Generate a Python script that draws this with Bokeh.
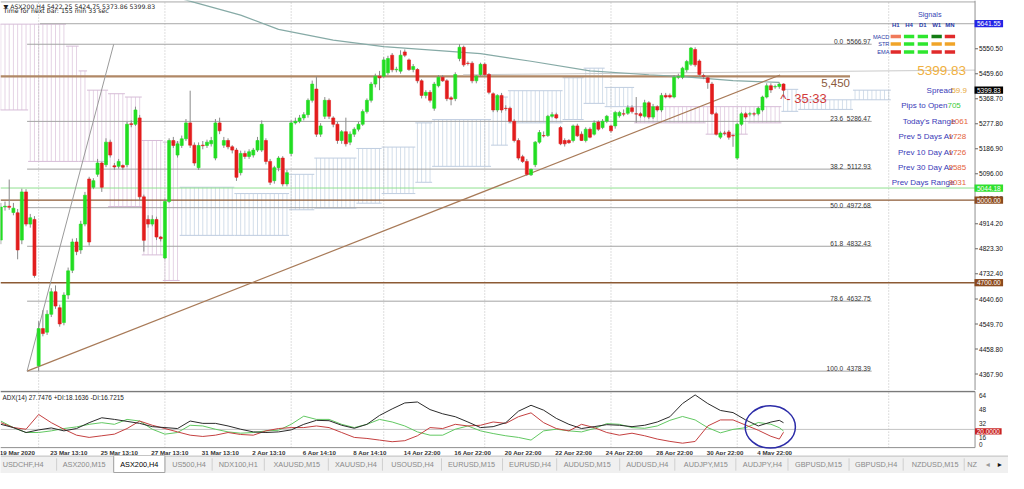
from bokeh.plotting import figure
from bokeh.layouts import column
from bokeh.models import Range1d
from bokeh.embed import file_html
from bokeh.resources import INLINE
from bokeh.core.properties import value

# ---------------- chart values ----------------
opens = [4855, 4975, 4978, 4955, 4954, 4855, 5030, 4913, 4930, 4398,
         4533, 4520, 4585, 4667, 4609, 4555, 4655, 4745, 4848, 4819,
         4913, 5077, 5047, 5094, 5135, 5129, 5211, 5125, 5123, 5126,
         5129, 5278, 5276, 5299, 5012, 4930, 4913, 4930, 4866, 4790,
         4995, 5217, 5164, 5199, 5223, 5281, 5200, 5118, 5200, 5199,
         5205, 5153, 5281, 5200, 5217, 5194, 5182, 5100, 5170, 5159,
         5164, 5182, 5182, 5217, 5141, 5071, 5118, 5153, 5059, 5170,
         5281, 5287, 5299, 5311, 5363, 5404, 5240, 5305, 5363, 5299,
         5276, 5217, 5249, 5211, 5240, 5258, 5276, 5322, 5363, 5422,
         5451, 5451, 5463, 5527, 5474, 5469, 5539, 5510, 5475, 5475,
         5434, 5381, 5392, 5334, 5416, 5447, 5434, 5372, 5369, 5515,
         5556, 5498, 5498, 5434, 5457, 5494, 5457, 5387, 5328, 5381,
         5334, 5334, 5287, 5217, 5158, 5141, 5092, 5129, 5211, 5235,
         5235, 5305, 5311, 5264, 5217, 5217, 5217, 5270, 5240, 5217,
         5258, 5240, 5284, 5264, 5287, 5270, 5270, 5307, 5314, 5316,
         5336, 5314, 5314, 5305, 5354, 5302, 5340, 5328, 5381, 5381,
         5375, 5447, 5447, 5474, 5494, 5548, 5506, 5452, 5445, 5422,
         5314, 5229, 5244, 5248, 5235, 5153, 5276, 5314, 5313, 5314,
         5314, 5328, 5375, 5416, 5412, 5413, 5422.25]
highs = [4990, 4995, 5075, 4990, 4968, 5042, 5040, 4950, 4942, 4560,
         4600, 4600, 4680, 4690, 4620, 4665, 4755, 4860, 4862, 4925,
         5030, 5085, 5080, 5150, 5140, 5225, 5220, 5135, 5150, 5130,
         5285, 5290, 5340, 5310, 5020, 4945, 4945, 4940, 4870, 5005,
         5225, 5230, 5215, 5235, 5295, 5398, 5210, 5210, 5215, 5220,
         5230, 5295, 5300, 5230, 5225, 5200, 5190, 5180, 5180, 5185,
         5190, 5230, 5290, 5225, 5150, 5125, 5160, 5160, 5110, 5290,
         5300, 5310, 5320, 5370, 5435, 5450, 5280, 5375, 5370, 5305,
         5285, 5255, 5300, 5250, 5265, 5285, 5330, 5370, 5430, 5460,
         5470, 5520, 5525, 5535, 5485, 5545, 5548, 5515, 5495, 5480,
         5440, 5400, 5400, 5430, 5455, 5455, 5440, 5378, 5465, 5567,
         5562, 5505, 5505, 5455, 5500, 5500, 5462, 5392, 5385, 5390,
         5345, 5340, 5295, 5225, 5165, 5150, 5115, 5215, 5255, 5250,
         5310, 5320, 5318, 5270, 5225, 5222, 5275, 5278, 5250, 5265,
         5265, 5290, 5290, 5295, 5310, 5275, 5325, 5325, 5330, 5345,
         5345, 5375, 5320, 5365, 5360, 5350, 5345, 5390, 5390, 5388,
         5455, 5460, 5485, 5510, 5557, 5556, 5512, 5460, 5450, 5430,
         5320, 5250, 5252, 5255, 5240, 5280, 5320, 5320, 5320, 5320,
         5340, 5380, 5425, 5425, 5420, 5428, 5424.75]
lows = [4840, 4962, 4965, 4945, 4785, 4840, 4905, 4900, 4718, 4378.39,
        4505, 4510, 4575, 4605, 4540, 4545, 4640, 4735, 4800, 4805,
        4905, 4835, 5040, 5085, 5030, 5120, 5155, 5110, 5115, 5110,
        5120, 5265, 5270, 5000, 4813, 4900, 4905, 4855, 4850, 4785,
        4990, 5190, 5155, 5190, 5215, 5190, 5125, 5110, 5185, 5190,
        5195, 5145, 5240, 5190, 5185, 5170, 5070, 5090, 5150, 5150,
        5155, 5175, 5175, 5130, 5055, 5060, 5105, 5050, 5050, 5160,
        5275, 5280, 5290, 5300, 5355, 5230, 5230, 5295, 5295, 5265,
        5205, 5205, 5195, 5200, 5230, 5250, 5270, 5315, 5355, 5410,
        5400, 5445, 5455, 5465, 5465, 5460, 5520, 5470, 5465, 5425,
        5370, 5370, 5355, 5325, 5410, 5430, 5360, 5345, 5360, 5505,
        5485, 5490, 5425, 5425, 5450, 5450, 5385, 5320, 5320, 5318,
        5325, 5280, 5210, 5145, 5135, 5088, 5088, 5120, 5205, 5228,
        5230, 5300, 5295, 5200, 5195, 5205, 5210, 5230, 5215, 5210,
        5225, 5235, 5252, 5258, 5280, 5245, 5260, 5300, 5305, 5310,
        5315, 5282, 5300, 5300, 5295, 5295, 5322, 5320, 5370, 5370,
        5370, 5440, 5440, 5465, 5488, 5485, 5450, 5440, 5405, 5310,
        5235, 5222, 5235, 5220, 5194, 5147, 5270, 5295, 5305, 5305,
        5308, 5322, 5370, 5390, 5405, 5405, 5373.86]
closes = [4975, 4978, 4974, 4971, 4819, 5030, 4913, 4936, 4726, 4533,
          4515, 4585, 4667, 4615, 4550, 4655, 4743, 4848, 4813, 4913,
          5018, 4848, 5071, 5135, 5047, 5211, 5164, 5121, 5141, 5120,
          5276, 5275, 5328, 5012, 4854, 4913, 4930, 4866, 4860, 4995,
          5217, 5199, 5205, 5223, 5281, 5200, 5135, 5199, 5198, 5211,
          5217, 5281, 5252, 5217, 5194, 5182, 5083, 5170, 5159, 5176,
          5182, 5217, 5276, 5141, 5065, 5118, 5153, 5059, 5100, 5281,
          5287, 5299, 5311, 5363, 5422, 5240, 5270, 5363, 5305, 5276,
          5217, 5249, 5205, 5240, 5258, 5276, 5322, 5363, 5422, 5451,
          5445, 5510, 5515, 5474, 5476, 5527, 5527, 5475, 5486, 5434,
          5381, 5392, 5363, 5422, 5447, 5434, 5369, 5367, 5457, 5556,
          5492, 5497, 5434, 5451, 5494, 5457, 5392, 5328, 5381, 5328,
          5333, 5287, 5217, 5153, 5141, 5094, 5112, 5211, 5246, 5234,
          5305, 5311, 5299, 5205, 5205, 5209, 5270, 5234, 5217, 5258,
          5229, 5281, 5258, 5287, 5305, 5252, 5319, 5319, 5313, 5336,
          5322, 5313, 5307, 5354, 5302, 5340, 5328, 5381, 5375, 5375,
          5447, 5449, 5480, 5504, 5553, 5492, 5457, 5451, 5428, 5314,
          5240, 5244, 5243, 5229, 5234, 5276, 5314, 5302, 5314, 5313,
          5334, 5375, 5416, 5401, 5413, 5422, 5399.83]

price_ticks = [5550.50, 5459.60, 5368.70, 5277.80, 5186.90, 5096.00, 5005.10,
               4914.20, 4823.30, 4732.40, 4640.60, 4549.70, 4458.80, 4367.90]

fib_names = ["0.0", "23.6", "38.2", "50.0", "61.8", "78.6", "100.0"]
fib_prices = [5566.97, 5286.47, 5112.93, 4972.68, 4832.43, 4632.75, 4378.39]

resist_level = 5450.0
brown_levels = [5000.00, 4700.00]
green_level = 5044.18
top_level = 5641.55
last_price = 5399.83

ma_bars = [40, 46, 57, 66, 79, 91, 114, 126, 140, 154, 162, 174, 185]
ma_vals = [5745, 5719, 5673, 5621, 5582, 5558, 5533, 5505, 5470, 5456, 5449, 5435, 5428]

cloud_start = [0, 7, 16, 19, 21, 26, 30, 34, 39, 43, 56, 69, 75, 85, 91, 99, 103, 117,
               121, 134, 139, 144, 151, 168, 178, 186, 190, 203]
cloud_end = [7, 16, 19, 21, 26, 30, 34, 39, 43, 56, 69, 75, 85, 91, 99, 103, 117, 121,
             134, 139, 144, 151, 168, 178, 186, 190, 203, 212]
cloud_top = [5640, 5640, 5560, 5470, 5400, 5387, 5375, 5217, 5211, 5047, 5024, 5094, 5153,
             5188, 5193, 5281, 5293, 5375, 5398, 5445, 5480, 5410, 5340, 5340, 5340, 5403,
             5365, 5400]
cloud_bottom = [5328, 5141, 5141, 5141, 5141, 4977, 4977, 4801, 4708, 4872, 4872, 4965, 4971,
                4989, 5024, 5065, 5123, 5200, 5281, 5293, 5352, 5340, 5281, 5240, 5281, 5323,
                5330, 5365]
cloud_bull = [0, 0, 0, 0, 0, 0, 0, 0, 0, 1, 1, 1, 1, 1, 1, 1, 1, 1, 1, 1, 1, 1, 0, 0, 0, 1, 1, 1]

adx_bars = list(range(0, 184, 3)) + [185, 186]
adx_main = [25.9, 22.1, 16.4, 19.4, 21.7, 18.3, 21.0, 27.8, 33.5, 31.6,
            29.3, 27.0, 23.2, 22.1, 21.0, 29.7, 27.0, 27.0, 24.0, 20.2,
            17.1, 16.4, 17.1, 19.4, 25.9, 30.5, 30.1, 24.8, 21.3, 25.9,
            36.2, 43.8, 50.7, 51.8, 43.0, 38.1, 34.7, 28.6, 22.1, 23.2,
            27.8, 41.1, 48.0, 42.3, 32.8, 25.9, 21.0, 23.2, 25.5, 24.8,
            23.2, 24.8, 28.6, 34.7, 50.0, 60.0, 50.0, 42.0, 39.5, 31.0,
            24.0, 28.5, 30.5, 27.75]
adx_plus = [29.7, 22.1, 16.4, 16.4, 18.3, 21.0, 22.9, 25.9, 27.8, 25.9,
            31.6, 29.7, 20.2, 14.5, 16.4, 24.8, 24.0, 20.2, 17.1, 15.6,
            16.4, 18.3, 19.0, 25.9, 35.4, 31.6, 31.6, 25.9, 22.1, 25.9,
            31.6, 28.6, 24.0, 17.1, 13.3, 13.3, 20.2, 24.0, 18.3, 15.2,
            12.6, 10.7, 7.6, 18.3, 20.2, 18.3, 17.1, 21.0, 26.7, 25.9,
            22.1, 21.3, 24.0, 30.5, 35.0, 31.0, 22.0, 16.0, 20.0, 22.0,
            28.0, 26.0, 22.0, 18.16]
adx_minus = [27.8, 22.1, 20.2, 37.3, 27.8, 20.2, 13.3, 10.7, 12.6, 14.5,
             21.0, 29.7, 24.8, 21.0, 17.1, 13.3, 11.8, 13.3, 16.4, 14.1,
             13.3, 18.3, 21.0, 22.1, 22.1, 24.0, 22.1, 16.4, 10.7, 9.5,
             7.6, 5.7, 6.9, 12.6, 22.1, 21.0, 25.9, 24.0, 24.8, 28.6,
             27.0, 34.7, 39.2, 27.8, 21.0, 18.3, 25.9, 22.1, 16.4, 13.3,
             15.6, 12.6, 8.8, 6.1, 4.0, 6.0, 24.0, 31.0, 31.0, 25.0,
             19.0, 12.0, 8.8, 16.72]
adx_level = 20
adx_ticks = [64, 48, 32, 16]

date_bars = list(range(0, 181, 12))
date_labels = ["19 Mar 2020", "23 Mar 13:10", "25 Mar 13:10", "27 Mar 13:10", "31 Mar 13:10",
               "2 Apr 13:10", "6 Apr 14:10", "8 Apr 14:10", "14 Apr 22:00", "16 Apr 22:00",
               "20 Apr 22:00", "22 Apr 22:00", "24 Apr 22:00", "28 Apr 22:00", "30 Apr 22:00",
               "4 May 22:00"]
grid_bars = [9, 39, 69, 91, 115, 145, 175, 211]

sig_cols = ["H1", "H4", "D1", "W1", "MN"]
sig_rows = ["MACD", "STR", "EMA"]
sig_colors = [["#f07a5a", "#2ee62e", "#2ee62e", "#137c13", "#e02a2a"],
              ["#f0a428", "#2ee62e", "#2ee62e", "#f0a428", "#f0a428"],
              ["#e02a2a", "#2ee62e", "#2ee62e", "#e02a2a", "#e02a2a"]]

info_labels = ["Spread", "Pips to Open", "Today's Range", "Prev 5 Days Av", "Prev 10 Day Av",
               "Prev 30 Day Av", "Prev Days Range"]
info_values = ["59.9", "705", "1061", "1728", "1726", "2585", "3031"]

tab_labels = ["USDCHF,H4", "ASX200,M15", "ASX200,H4", "US500,H4", "NDX100,H1", "XAUUSD,M15",
              "XAUUSD,H4", "USOUSD,H4", "EURUSD,M15", "EURUSD,H4", "AUDUSD,M15", "AUDUSD,H4",
              "AUDJPY,M15", "AUDJPY,H4", "GBPUSD,M15", "GBPUSD,H4", "NZDUSD,M15"]
active_tab = 2

assert len(opens) == len(highs) == len(lows) == len(closes) == 187
assert len(adx_bars) == len(adx_main) == len(adx_plus) == len(adx_minus)

# ---------------- layout helpers (reference pixel -> data space, for overlays) ----------------
def bx(px):
    return (px - 0.3) / 4.275

def py(ypx):
    return 5550.5 - (ypx - 50) * 3.51

def ay(ypx):
    return 20 + (443.5 - ypx) / 0.875

W = 1008
FONT = value("Liberation Sans")
bars = list(range(len(closes)))
AX = bx(990)          # right border of the plotting area
x_range = Range1d(bx(0), bx(1024))


def base_fig(height, y_range):
    f = figure(width=W, height=height, x_range=x_range, y_range=y_range,
               output_backend="svg", toolbar_location=None, title=None,
               x_axis_location=None, y_axis_location=None, min_border=0,
               min_border_left=0, min_border_right=0, min_border_top=0, min_border_bottom=0,
               background_fill_color="white", border_fill_color="white",
               outline_line_color=None)
    f.grid.visible = False
    return f

# ---------------- main price panel ----------------
p = base_fig(390, Range1d(py(404), py(0)))

# ichimoku cloud hatch
pink, blue = "#e5d3e5", "#d3deea"
edge_pink, edge_blue = "#d6bcd7", "#bfcde0"
hx, hy0, hy1, hc = [], [], [], []
for s, e, top, bot, bull in zip(cloud_start, cloud_end, cloud_top, cloud_bottom, cloud_bull):
    for b in range(s, e):
        hx.append(b)
        hy0.append(bot)
        hy1.append(top)
        hc.append(blue if bull else pink)
p.segment(x0=hx, x1=hx, y0=hy0, y1=hy1, line_color=hc, line_width=1)
ec = [edge_blue if b else edge_pink for b in cloud_bull]
ex0 = [s - 0.5 for s in cloud_start]
ex1 = [e - 0.5 for e in cloud_end]
p.segment(x0=ex0, x1=ex1, y0=cloud_top, y1=cloud_top, line_color=ec, line_width=1)
p.segment(x0=ex0, x1=ex1, y0=cloud_bottom, y1=cloud_bottom, line_color=ec, line_width=1)

# vertical period separators
ylo, yhi = py(404), py(0)
p.segment(x0=grid_bars, x1=grid_bars, y0=[ylo] * len(grid_bars), y1=[yhi] * len(grid_bars),
          line_color="#bdbdbd", line_dash="1 2", line_width=1)

# top border of the chart window
p.segment(x0=[bx(0)], x1=[AX], y0=[py(1.5)], y1=[py(1.5)], line_color="#a8a8a8", line_width=1)

# fibonacci levels
fx0 = [bx(27)] * len(fib_prices)
fx1 = [bx(885)] * len(fib_prices)
p.segment(x0=fx0, x1=fx1, y0=fib_prices, y1=fib_prices, line_color="#a3a3a3", line_width=1)
p.text(x=[bx(856)] * len(fib_names), y=fib_prices, text=fib_names, text_align="right",
       text_baseline="bottom", text_font=FONT, text_font_size="6.6px", text_color="#333333")
p.text(x=[bx(884)] * len(fib_names), y=fib_prices, text=["%.2f" % v for v in fib_prices],
       text_align="right", text_baseline="bottom", text_font=FONT, text_font_size="6.6px",
       text_color="#333333")

# horizontal objects
p.segment(x0=[bx(40)], x1=[AX], y0=[top_level], y1=[top_level], line_color="#a8a8a8", line_width=1)
p.segment(x0=[bx(0)], x1=[AX], y0=[green_level], y1=[green_level], line_color="#8fe08f", line_width=1)
p.segment(x0=[bx(0)] * 2, x1=[AX] * 2, y0=brown_levels, y1=brown_levels,
          line_color="#8c5a34", line_width=1.4)
p.segment(x0=[bx(0)], x1=[bx(863)], y0=[resist_level], y1=[resist_level],
          line_color="#b08866", line_width=2.2)
p.segment(x0=[bx(470)], x1=[AX], y0=[5456], y1=[5473], line_color="#cacaca", line_width=1)

# moving average
p.line(ma_bars, ma_vals, line_color="#86aaa6", line_width=1.2)

# trend lines from the swing low
p.segment(x0=[bx(27)], x1=[bx(792)], y0=[fib_prices[-1]], y1=[5455], line_color="#a87a58", line_width=1.2)
p.segment(x0=[bx(27)], x1=[bx(115)], y0=[fib_prices[-1]], y1=[fib_prices[0]], line_color="#9a9a9a", line_width=1)

# candles
up = [c >= o for o, c in zip(opens, closes)]
ccol = ["#22dd22" if u else "#e21d1d" for u in up]
p.segment(x0=bars, x1=bars, y0=lows, y1=highs, line_color="#8a8a8a", line_width=1)
p.vbar(x=bars, width=0.72, top=[max(o, c) for o, c in zip(opens, closes)],
       bottom=[min(o, c) for o, c in zip(opens, closes)], fill_color=ccol, line_color=ccol,
       line_width=0.6)

# text on the chart
p.text(x=[bx(3)], y=[py(6)], text=["\u25bc ASX200,H4  5422.25 5424.75 5373.86 5399.83"],
       text_font=value("DejaVu Sans"), text_font_size="6.2px", text_color="#222222",
       text_baseline="middle")
p.text(x=[bx(3)], y=[py(10.5)], text=["Time for next bar: 155 min 33 sec"],
       text_font=value("DejaVu Sans"), text_font_size="6.2px", text_color="#222222",
       text_baseline="middle")
p.text(x=[bx(863)], y=[py(85)], text=["5,450"], text_align="right", text_baseline="middle",
       text_font=FONT, text_font_size="11.5px", text_color="#8b5a3c")
p.text(x=[bx(792)], y=[py(101)], text=["^- 35:33"], text_align="left", text_baseline="middle",
       text_font=FONT, text_font_size="13px", text_color="#d23a3a")

# signals panel
col_px = [909.5, 923, 937, 951, 964.5]
row_px = [37.3, 45, 53.3]
p.text(x=[bx(944)], y=[py(14)], text=["Signals"], text_align="center", text_baseline="middle",
       text_font=FONT, text_font_size="7.2px", text_color="#3545b5")
p.text(x=[bx(c) for c in col_px], y=[py(25)] * 5, text=sig_cols, text_align="center",
       text_baseline="middle", text_font=FONT, text_font_size="6px", text_font_style="bold",
       text_color="#2a3aa8")
p.text(x=[bx(903)] * 3, y=[py(r) for r in row_px], text=sig_rows, text_align="right",
       text_baseline="middle", text_font=FONT, text_font_size="5.6px", text_color="#2a3aa8")
rx, ry, rc = [], [], []
for ri, rowc in enumerate(sig_colors):
    for ci, colr in enumerate(rowc):
        rx.append(bx(col_px[ci]))
        ry.append(py(row_px[ri]))
        rc.append(colr)
p.rect(x=rx, y=ry, width=10.5 / 4.275, height=3.6 * 3.51, fill_color=rc, line_color=None)

# info panel
p.text(x=[bx(956)], y=[py(73)], text=["%.2f" % last_price], text_align="center",
       text_baseline="middle", text_font=FONT, text_font_size="13.5px", text_color="#f0b040")
info_y = [93, 109, 125, 141, 157, 173, 189]
lab_end = [967, 962, 970, 968, 968, 968, 969]
val_start = [966, 962, 965, 963, 963, 963, 963]
val_col = ["#e8a838", "#3ccc3c", "#e4623a", "#e4623a", "#e4623a", "#e4623a", "#e4623a"]
p.text(x=[bx(v) for v in lab_end], y=[py(v) for v in info_y], text=info_labels,
       text_align="right", text_baseline="middle", text_font=FONT, text_font_size="8px",
       text_color="#3a3ab8")
p.text(x=[bx(v) for v in val_start], y=[py(v) for v in info_y], text=info_values,
       text_align="left", text_baseline="middle", text_font=FONT, text_font_size="8px",
       text_color=val_col)

# price scale on the right
n = len(price_ticks)
p.segment(x0=[AX], x1=[AX], y0=[py(404)], y1=[py(0)], line_color="#8f8f8f", line_width=1)
p.segment(x0=[AX] * n, x1=[bx(993)] * n, y0=price_ticks, y1=price_ticks,
          line_color="#666666", line_width=1)
p.text(x=[bx(994)] * n, y=price_ticks, text=["%.2f" % v for v in price_ticks],
       text_align="left", text_baseline="middle", text_font=FONT, text_font_size="6.6px",
       text_color="#111111")
hl_prices = [top_level, last_price, green_level, brown_levels[0], brown_levels[1]]
hl_colors = ["#2424e6", "#000000", "#2ee02e", "#8c4a1e", "#8c4a1e"]
p.rect(x=[bx(1004)] * 5, y=hl_prices, width=29 / 4.275, height=7.5 * 3.51,
       fill_color=hl_colors, line_color=None)
p.text(x=[bx(1004)] * 5, y=hl_prices, text=["%.2f" % v for v in hl_prices],
       text_align="center", text_baseline="middle", text_font=FONT, text_font_size="6.6px",
       text_color="white")

# ---------------- ADX panel ----------------
a = base_fig(65, Range1d(ay(470), ay(404)))
a.segment(x0=grid_bars, x1=grid_bars, y0=[ay(462)] * len(grid_bars), y1=[ay(405)] * len(grid_bars),
          line_color="#bdbdbd", line_dash="1 2", line_width=1)
a.segment(x0=[bx(0)], x1=[AX], y0=[adx_level], y1=[adx_level], line_color="#c3c3c3", line_width=1)
a.segment(x0=[bx(0)], x1=[AX], y0=[ay(405)], y1=[ay(405)], line_color="#7a7a7a", line_width=1.6)
a.segment(x0=[bx(0)], x1=[AX], y0=[ay(462)], y1=[ay(462)], line_color="#8f8f8f", line_width=1)
a.segment(x0=[AX], x1=[AX], y0=[ay(462)], y1=[ay(405)], line_color="#8f8f8f", line_width=1)
a.line(adx_bars, adx_plus, line_color="#62c862", line_width=1)
a.line(adx_bars, adx_minus, line_color="#c44040", line_width=1)
a.line(adx_bars, adx_main, line_color="#2b2b2b", line_width=1)
a.ellipse(x=[bx(782)], y=[ay(441)], width=[51 / 4.275], height=[43 / 0.875],
          fill_color=None, line_color="#2c2ca8", line_width=1.5)
a.text(x=[bx(2)], y=[ay(411)], text=["ADX(14) 27.7476 +DI:18.1636 -DI:16.7215"],
       text_font=FONT, text_font_size="6.4px", text_color="#222222", text_baseline="middle")
a.text(x=date_bars, y=[ay(466.5)] * len(date_bars), text=date_labels, x_offset=-1,
       text_align="left", text_baseline="middle", text_font=FONT, text_font_size="6.2px",
       text_font_style="bold", text_color="#333333")
a.text(x=[bx(994)] * len(adx_ticks), y=adx_ticks, text=[str(v) for v in adx_ticks], y_offset=2,
       text_align="left", text_baseline="top", text_font=FONT, text_font_size="6.4px",
       text_color="#222222")
a.text(x=[bx(994)], y=[0], text=["0"], text_align="left", text_baseline="bottom",
       text_font=FONT, text_font_size="6.4px", text_color="#222222")
a.rect(x=[bx(1003.5)], y=[ay(445.5)], width=[27 / 4.275], height=[6.5 / 0.875],
       fill_color="#c82222", line_color=None)
a.text(x=[bx(1003.5)], y=[ay(445.5)], text=["%.4f" % adx_level], text_align="center",
       text_baseline="middle", text_font=FONT, text_font_size="6.4px", text_color="white")

# ---------------- symbol tabs ----------------
t = figure(width=W, height=18, x_range=Range1d(0, 1024), y_range=Range1d(0, 19),
           output_backend="svg", toolbar_location=None, title=None,
           x_axis_location=None, y_axis_location=None, min_border=0,
           background_fill_color="#f0f0f0", border_fill_color="#f0f0f0", outline_line_color=None)
t.grid.visible = False
tab_seps = [57, 115, 167, 215, 268, 333, 388, 448, 510, 565, 629, 685, 747, 800, 862, 917, 979]
tab_centers = [23, 85, 141, 191.5, 241.5, 301, 361, 418.5, 478.5, 538, 596, 657, 716.5, 774,
               831, 889.5, 949.5]
t.segment(x0=[0], x1=[1024], y0=[18.5], y1=[18.5], line_color="#b0b0b0", line_width=1)
t.segment(x0=tab_seps, x1=tab_seps, y0=[3] * len(tab_seps), y1=[16] * len(tab_seps),
          line_color="#cfcfcf", line_width=1)
t.quad(left=[tab_seps[active_tab - 1]], right=[tab_seps[active_tab]], top=[19], bottom=[1],
       fill_color="white", line_color="#a0a0a0", line_width=1)
t.text(x=tab_centers, y=[9.5] * len(tab_centers), text=tab_labels, text_align="center",
       text_baseline="middle", text_font=FONT, text_font_size="7.3px",
       text_color=["#000000" if i == active_tab else "#8a8a8a" for i in range(len(tab_labels))])
t.text(x=[982], y=[9.5], text=["NZ"], text_align="left", text_baseline="middle", text_font=FONT,
       text_font_size="7.3px", text_color="#8a8a8a")
t.text(x=[1003, 1015], y=[9.5, 9.5], text=["\u25c2", "\u25b8"], text_align="center",
       text_baseline="middle", text_font=value("DejaVu Sans"), text_font_size="8px",
       text_color=["#9a9a9a", "#111111"])

layout = column(p, a, t, spacing=0)
open("out.html", "w").write(file_html(layout, INLINE))
